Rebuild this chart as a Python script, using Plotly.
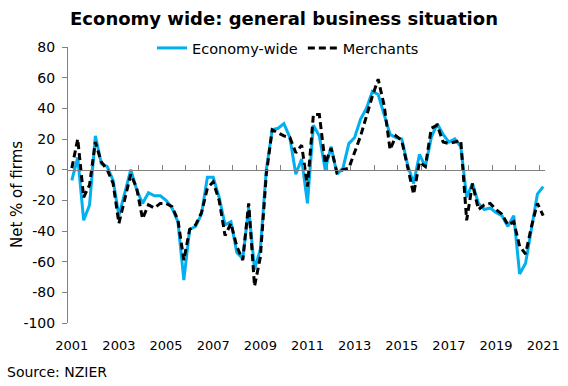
import pandas as pd
import plotly.graph_objects as go

# Quarterly observations, 2001 Q1 .. 2021 Q1 (plotted at the March/Jun/Sep/Dec month starts)
quarters = pd.date_range("2001-03-01", periods=81, freq="3MS")

economy_wide = [
    -7, 8, -33, -23, 22, 4, 2, -7, -30, -15,
    0, -13, -22, -15, -17, -17, -20, -25, -34, -72,
    -39, -37, -29, -5, -5, -18, -36, -34, -54, -58,
    -25, -65, -52, 0, 26, 27, 30, 21, -3, 7,
    -22, 29, 22, 0, 15, -3, 1, 17, 21, 33,
    40, 51, 49, 36, 23, 21, 20, 3, -9, 10,
    2, 21, 30, 23, 18, 20, 15, -18, -9, -22,
    -26, -25, -28, -30, -37, -30, -68, -61, -37, -16,
    -11,
]
merchants = [
    1, 20, -18, -10, 18, 5, 0, -9, -35, -18,
    -3, -12, -32, -23, -25, -22, -22, -24, -33, -59,
    -39, -36, -28, -12, -8, -20, -43, -35, -50, -59,
    -22, -76, -57, -3, 26, 24, 22, 21, 11, 16,
    -11, 36, 36, 4, 14, -2, 0, 1, 11, 22,
    35, 48, 59, 42, 13, 22, 19, 1, -16, 5,
    2, 27, 29, 18, 17, 18, 19, -33, -9, -26,
    -23, -22, -26, -29, -36, -34, -50, -55, -37, -22,
    -30,
]

label_years = list(range(2001, 2022, 2))
label_dates = [f"{y}-03-01" for y in label_years]
label_text = [str(y) for y in label_years]

y_ticks = list(range(-100, 81, 20))
y_ticktext = [str(v) for v in y_ticks]

x_range = ["2001-01-01", "2021-03-29"]
y_min, y_max = -100, 80

FONT = "DejaVu Sans"
L, R, T, B = 68, 23, 47, 63
W, H = 568, 386
PW, PH = W - L - R, H - T - B


def px_x(px):
    return (px - L) / PW


def px_y(py):
    return (H - B - py) / PH


fig = go.Figure()
fig.add_trace(go.Scatter(
    x=quarters, y=economy_wide, name="Economy-wide", mode="lines",
    line=dict(color="#00B0F0", width=3),
))
fig.add_trace(go.Scatter(
    x=quarters, y=merchants, name="Merchants", mode="lines",
    line=dict(color="#000000", width=3, dash="7px,4px"),
))
# invisible trace on xaxis2 so that the year-label axis is drawn
fig.add_trace(go.Scatter(x=[quarters[0]], y=[None], xaxis="x2", showlegend=False,
                         hoverinfo="skip", mode="lines"))

fig.update_layout(
    width=W, height=H,
    margin=dict(l=L, r=R, t=T, b=B, autoexpand=False),
    paper_bgcolor="white", plot_bgcolor="white",
    font=dict(family=FONT, size=13, color="black"),
    title=dict(
        text="<b>Economy wide: general business situation</b>",
        x=0.5, xanchor="center", y=1 - 19 / H, yanchor="middle",
        font=dict(family=FONT, size=18, color="black"),
    ),
    showlegend=True,
    legend=dict(
        orientation="h", x=px_x(152), xanchor="left", y=px_y(48), yanchor="middle",
        bgcolor="rgba(0,0,0,0)", font=dict(family=FONT, size=14.5),
        traceorder="normal",
    ),
    xaxis=dict(
        type="date", range=x_range, anchor="free", automargin=False,
        position=(0 - y_min) / (y_max - y_min),
        showline=True, linecolor="#808080", linewidth=1,
        ticks="inside", ticklen=5, tickcolor="#808080",
        tick0="2001-01-01", dtick="M12",
        showticklabels=False, showgrid=False, zeroline=False,
    ),
    xaxis2=dict(
        type="date", range=x_range, overlaying="x", anchor="y", side="bottom",
        automargin=False,
        tickmode="array", tickvals=label_dates, ticktext=label_text,
        ticks="", showline=False, showgrid=False, zeroline=False,
        ticklabelstandoff=13, tickfont=dict(family=FONT, size=13),
    ),
    yaxis=dict(
        range=[y_min, y_max], automargin=False,
        tickmode="array", tickvals=y_ticks, ticktext=y_ticktext,
        showline=True, linecolor="#808080", linewidth=1,
        ticks="outside", ticklen=5, tickcolor="#808080",
        showgrid=False, zeroline=False,
        tickfont=dict(family=FONT, size=14),
        ticklabelstandoff=4,
    ),
    annotations=[
        dict(text="Net % of firms", textangle=-90, xref="paper", yref="paper",
             x=px_x(17), y=px_y(195), xanchor="center", yanchor="middle",
             showarrow=False, font=dict(family=FONT, size=15)),
        dict(text="Source: NZIER", xref="paper", yref="paper",
             x=px_x(5), y=px_y(372), xanchor="left", yanchor="middle",
             showarrow=False, font=dict(family=FONT, size=14)),
    ],
)

fig.write_html(
    "out.html",
    config={"displayModeBar": False},
    post_script="document.body.style.margin='0';document.body.style.padding='0';",
)
